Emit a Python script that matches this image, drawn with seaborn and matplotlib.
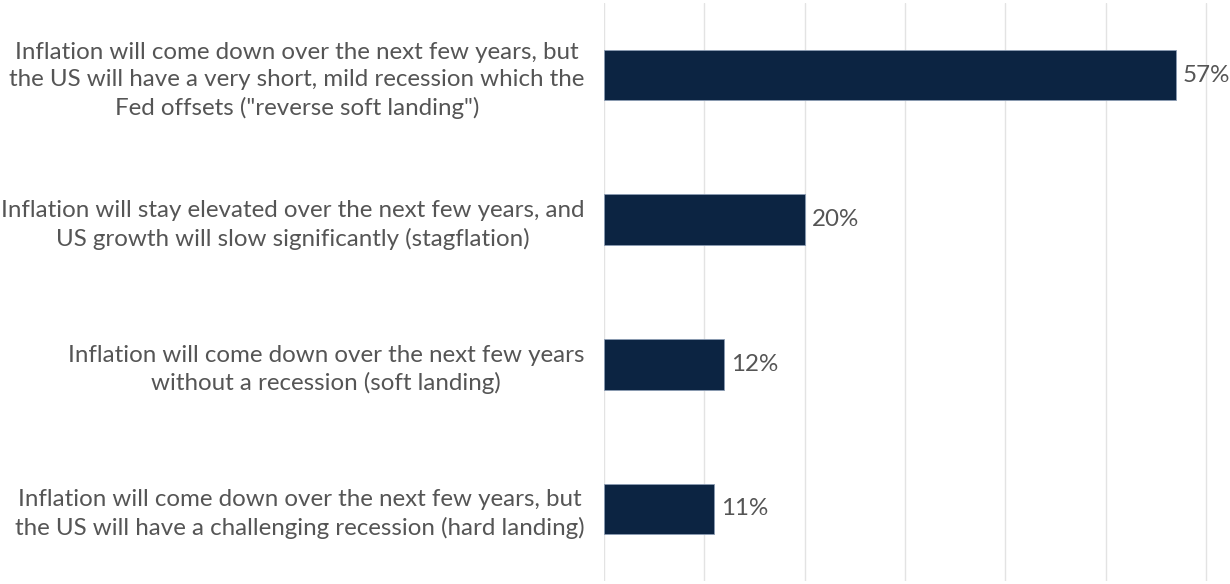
import matplotlib
matplotlib.use("Agg")
import matplotlib.pyplot as plt
import seaborn as sns
import pandas as pd

scenarios = [
    'Inflation will come down over the next few years, but\nthe US will have a very short, mild recession which the\nFed offsets ("reverse soft landing")',
    'Inflation will stay elevated over the next few years, and\nUS growth will slow significantly (stagflation)',
    'Inflation will come down over the next few years\nwithout a recession (soft landing)',
    'Inflation will come down over the next few years, but\nthe US will have a challenging recession (hard landing)',
]
shares = [57, 20, 12, 11]

df = pd.DataFrame({"scenario": scenarios, "share": shares})

sns.set_theme(style="white")
plt.rcParams["font.family"] = ["Lato", "DejaVu Sans"]

BAR = "#0c2442"
TEXT = "#555555"
FS = 17.4

fig = plt.figure(figsize=(12.3, 5.84), dpi=100)
ax = fig.add_axes([0.491, 0.005, 0.509, 0.99])

sns.barplot(data=df, x="share", y="scenario", orient="h", color=BAR,
            width=0.35, edgecolor="#8a9bb3", linewidth=0.6, saturation=1,
            ax=ax, zorder=3)

ax.set_xlim(0, 62.4)
ax.set_ylim(3.5, -0.5)
ax.set_xticks(range(0, 61, 10))
ax.xaxis.grid(True, color="#e3e3e3", linewidth=1.0, zorder=0)
ax.set_axisbelow(True)
ax.set_xticklabels([])
ax.set_xlabel("")
ax.set_ylabel("")
for s in ax.spines.values():
    s.set_visible(False)

ax.tick_params(axis="y", length=0, pad=14)
for lbl in ax.get_yticklabels():
    lbl.set_multialignment("center")
    lbl.set_fontsize(FS)
    lbl.set_color(TEXT)
    lbl.set_linespacing(1.36)

for i, v in enumerate(shares):
    ax.text(v + 0.7, i, f"{v}%", va="center", ha="left", fontsize=FS,
            color=TEXT)

fig.savefig("out.png", dpi=100)
